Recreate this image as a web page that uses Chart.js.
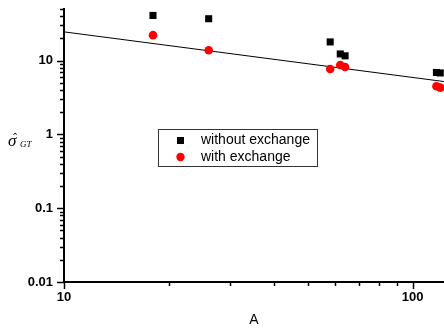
<!DOCTYPE html>
<html>
<head>
<meta charset="utf-8">
<script src="https://cdn.jsdelivr.net/npm/chart.js@4/dist/chart.umd.min.js"></script>
<style>
  body { margin: 0; background: #fff; }
  canvas { display: block; }
</style>
</head>
<body>
<canvas id="myChart" width="444" height="329"></canvas>
<script>
// Data
const massNumbers = [18, 26, 58, 62, 64, 117, 120];
const withoutExchange = [40.9, 36.9, 17.9, 12.3, 11.6, 6.9, 6.8];
const withExchange = [22.1, 13.8, 7.7, 8.7, 8.2, 4.5, 4.3];
const fitA = [10, 123];
const fitValues = [24.5, 5.2];
const xTickLabels = ['10', '100'];
const yTickLabels = ['0.01', '0.1', '1', '10'];

const FONT = "'Liberation Sans', Arial, sans-serif";
const SERIF = "'Liberation Serif', 'Times New Roman', serif";

const toPoints = (xs, ys) => xs.map((x, i) => ({ x: x, y: ys[i] }));

const matchLabel = (value, labels) => {
  const hit = labels.find(l => Math.abs(Math.log10(value) - Math.log10(parseFloat(l))) < 1e-6);
  return hit === undefined ? '' : hit;
};

// is value of the form d * 10^n
const isNice = (value) => {
  const m = value / Math.pow(10, Math.floor(Math.log10(value) + 1e-9));
  return Math.abs(m - Math.round(m)) < 1e-6;
};
const isDecade = (value) => Math.abs(Math.log10(value) - Math.round(Math.log10(value))) < 1e-6;

// Origin style tick marks (major longer than minor), axis title and legend box
const tickMarks = {
  id: 'tickMarks',
  afterDraw(chart) {
    const ctx = chart.ctx;
    const xs = chart.scales.x;
    const ys = chart.scales.y;
    ctx.save();
    ctx.strokeStyle = '#000';
    ctx.lineWidth = 1.5;
    ctx.beginPath();
    ys.ticks.forEach(t => {
      if (!isNice(t.value)) return;
      const py = Math.round(ys.getPixelForValue(t.value)) + 0.5;
      const len = isDecade(t.value) ? 7 : 4;
      ctx.moveTo(ys.right - len, py);
      ctx.lineTo(ys.right, py);
    });
    xs.ticks.forEach(t => {
      if (!isNice(t.value) || t.value > xs.max) return;
      const px = Math.round(xs.getPixelForValue(t.value)) + 0.5;
      const len = isDecade(t.value) ? 7 : 4;
      ctx.moveTo(px, xs.top);
      ctx.lineTo(px, xs.top + len);
    });
    ctx.stroke();

    // y axis title: sigma hat with subscript GT
    ctx.fillStyle = '#000';
    ctx.textBaseline = 'alphabetic';
    ctx.font = 'italic 17px ' + SERIF;
    ctx.fillText('\u03C3', 8, 146);
    ctx.font = 'italic 13px ' + SERIF;
    ctx.fillText('\u02C6', 12, 142);
    ctx.font = 'italic 9px ' + SERIF;
    ctx.fillText('GT', 20, 147);

    // legend box
    ctx.lineWidth = 1;
    ctx.strokeStyle = '#333';
    ctx.strokeRect(158.5, 129.5, 159, 37);
    ctx.fillStyle = '#000';
    ctx.fillRect(177, 137, 7, 7);
    ctx.fillStyle = '#ff0000';
    ctx.beginPath();
    ctx.arc(180.5, 157, 4.2, 0, Math.PI * 2);
    ctx.fill();
    ctx.fillStyle = '#000';
    ctx.font = '14px ' + FONT;
    ctx.textBaseline = 'middle';
    ctx.fillText('without exchange', 201, 140.5);
    ctx.fillText('with exchange', 201, 157);
    ctx.restore();
  }
};

const data = {
  datasets: [
    {
      label: 'without exchange',
      data: toPoints(massNumbers, withoutExchange),
      pointStyle: 'rect',
      pointRadius: 5,
      backgroundColor: '#000',
      borderColor: '#000',
      borderWidth: 0,
      showLine: false
    },
    {
      label: 'with exchange',
      data: toPoints(massNumbers, withExchange),
      pointStyle: 'circle',
      pointRadius: 4.3,
      backgroundColor: '#ff0000',
      borderColor: '#ff0000',
      borderWidth: 0,
      showLine: false
    },
    {
      label: 'fit',
      data: toPoints(fitA, fitValues),
      showLine: true,
      borderColor: '#000',
      borderWidth: 1,
      pointRadius: 0,
      fill: false
    }
  ]
};

const options = {
  responsive: false,
  animation: false,
  layout: { autoPadding: false, padding: { top: 9, left: 0, right: 0, bottom: 0 } },
  plugins: {
    legend: { display: false },
    tooltip: { enabled: false }
  },
  scales: {
    x: {
      type: 'logarithmic',
      min: 10,
      max: 123,
      border: { display: true, color: '#000', width: 2 },
      grid: { drawOnChartArea: false, drawTicks: true, tickLength: 7, tickColor: 'transparent', color: 'transparent' },
      ticks: {
        autoSkip: false,
        maxRotation: 0,
        padding: 1,
        color: '#000',
        font: { family: FONT, size: 13, weight: 'bold' },
        callback: (value) => matchLabel(value, xTickLabels)
      },
      title: {
        display: true,
        text: 'A',
        color: '#000',
        padding: { top: 2, bottom: 0 },
        font: { family: FONT, size: 14 }
      },
      afterFit: (scale) => {
        scale.height = 47;
        scale.paddingLeft = 0;
        scale.paddingRight = 0;
      }
    },
    y: {
      type: 'logarithmic',
      min: 0.01,
      max: 50,
      border: { display: true, color: '#000', width: 2 },
      grid: { drawOnChartArea: false, drawTicks: true, tickLength: 7, tickColor: 'transparent', color: 'transparent' },
      ticks: {
        autoSkip: false,
        padding: 4,
        color: '#000',
        font: { family: FONT, size: 13, weight: 'bold' },
        callback: (value) => matchLabel(value, yTickLabels)
      },
      afterFit: (scale) => {
        scale.width = 64;
        scale.paddingTop = 0;
        scale.paddingBottom = 0;
      }
    }
  }
};

const ctx = document.getElementById('myChart');
const myChart = new Chart(ctx, {
  type: 'scatter',
  data: data,
  options: options,
  plugins: [tickMarks]
});
</script>
</body>
</html>
